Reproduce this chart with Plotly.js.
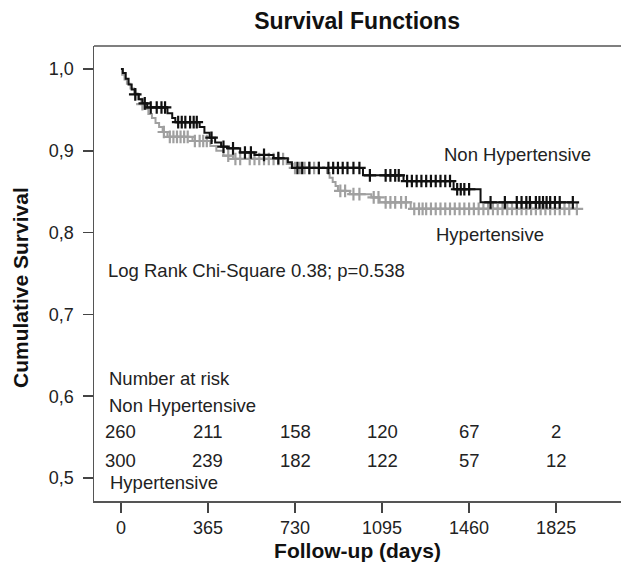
<!DOCTYPE html>
<html>
<head>
<meta charset="utf-8">
<script src="https://cdn.plot.ly/plotly-3.0.1.min.js"></script>
<style>html,body{margin:0;padding:0;background:#fff;}#chart{width:621px;height:573px;}</style>
</head>
<body>
<div id="chart"></div>
<script>
// Kaplan-Meier steps: Non Hypertensive
const nhTimes = [0, 8, 20, 32, 45, 60, 75, 90, 110, 195, 215, 228, 330, 350, 372, 395, 420, 445, 500, 560, 640, 700, 717, 1015, 1185, 1395, 1508];
const nhSurv  = [1.0, 0.995, 0.988, 0.981, 0.975, 0.969, 0.963, 0.958, 0.953, 0.946, 0.940, 0.935, 0.929, 0.922, 0.916, 0.910, 0.905, 0.903, 0.898, 0.895, 0.891, 0.886, 0.879, 0.870, 0.863, 0.853, 0.837];
const nhCensor = [60, 100, 125, 150, 170, 185, 240, 255, 270, 290, 305, 318, 380, 430, 470, 520, 545, 600, 660, 740, 760, 790, 830, 870, 890, 910, 930, 950, 975, 1000, 1044, 1110, 1130, 1150, 1165, 1200, 1220, 1240, 1260, 1280, 1300, 1320, 1340, 1360, 1380, 1410, 1425, 1440, 1460, 1550, 1610, 1660, 1680, 1700, 1715, 1740, 1755, 1770, 1785, 1800, 1820, 1840, 1895];

// Kaplan-Meier steps: Hypertensive
const htTimes = [0, 5, 15, 25, 40, 55, 70, 85, 100, 115, 130, 145, 160, 175, 195, 300, 375, 400, 430, 470, 695, 720, 864, 875, 888, 900, 910, 960, 1050, 1085, 1215];
const htSurv  = [1.0, 0.993, 0.987, 0.982, 0.976, 0.970, 0.963, 0.957, 0.951, 0.945, 0.940, 0.934, 0.929, 0.923, 0.917, 0.912, 0.906, 0.900, 0.894, 0.890, 0.884, 0.879, 0.873, 0.867, 0.862, 0.857, 0.851, 0.847, 0.843, 0.837, 0.829];
const htCensor = [90, 180, 205, 220, 235, 250, 265, 280, 310, 330, 345, 360, 450, 480, 500, 540, 560, 580, 600, 620, 640, 660, 680, 730, 750, 770, 790, 810, 830, 920, 940, 975, 1000, 1060, 1080, 1110, 1130, 1150, 1175, 1195, 1230, 1250, 1265, 1280, 1300, 1320, 1340, 1360, 1380, 1400, 1420, 1440, 1460, 1480, 1500, 1520, 1540, 1560, 1580, 1600, 1620, 1640, 1660, 1680, 1700, 1720, 1740, 1760, 1780, 1800, 1820, 1840, 1860, 1880, 1912];

// Number at risk table
const riskDays = [0, 365, 730, 1095, 1460, 1825];
const riskNonHT = [260, 211, 158, 120, 67, 2];
const riskHT = [300, 239, 182, 122, 57, 12];
const xTicks = [0, 365, 730, 1095, 1460, 1825];
const yTicks = [0.5, 0.6, 0.7, 0.8, 0.9, 1.0];

function survAt(times, surv, t) {
  let s = surv[0];
  for (let i = 0; i < times.length; i++) if (times[i] <= t) s = surv[i];
  return s;
}
function stepLine(times, surv, censor) {
  const end = Math.max(...censor);
  return {x: times.concat([end]), y: surv.concat([surv[surv.length - 1]])};
}

const FONT = 'Liberation Sans, Arial, sans-serif';
const GRAY = '#a0a0a0', BLACK = '#111111';

const htLine = stepLine(htTimes, htSurv, htCensor);
const nhLine = stepLine(nhTimes, nhSurv, nhCensor);

const traces = [
  {x: htLine.x, y: htLine.y, mode: 'lines', line: {shape: 'hv', color: GRAY, width: 2}, showlegend: false, hoverinfo: 'skip'},
  {x: htCensor, y: htCensor.map(t => survAt(htTimes, htSurv, t)), mode: 'markers',
   marker: {symbol: 'cross-thin-open', size: 9, color: GRAY, line: {color: GRAY, width: 2.2}}, showlegend: false, hoverinfo: 'skip'},
  {x: nhLine.x, y: nhLine.y, mode: 'lines', line: {shape: 'hv', color: BLACK, width: 2}, showlegend: false, hoverinfo: 'skip'},
  {x: nhCensor, y: nhCensor.map(t => survAt(nhTimes, nhSurv, t)), mode: 'markers',
   marker: {symbol: 'cross-thin-open', size: 9, color: BLACK, line: {color: BLACK, width: 2.2}}, showlegend: false, hoverinfo: 'skip'}
];

const TS = 18.5;
const ann = [];
function txt(x, y, text, anchor) {
  ann.push({x: x, y: y, xref: 'x', yref: 'y', text: text, showarrow: false,
            xanchor: anchor || 'left', yanchor: 'middle', font: {family: FONT, size: TS, color: '#222'}});
}
txt(1345, 0.896, 'Non Hypertensive');
txt(1311, 0.798, 'Hypertensive');
txt(-63, 0.754, 'Log Rank Chi-Square 0.38; p=0.538');
txt(-60, 0.622, 'Number at risk');
txt(-60, 0.589, 'Non Hypertensive');
txt(-55, 0.495, 'Hypertensive');
riskDays.forEach((d, i) => {
  txt(d, 0.557, String(riskNonHT[i]), 'center');
  txt(d, 0.522, String(riskHT[i]), 'center');
});
// y-axis title (pixel position converted to paper coords)
ann.push({x: (20 - 94) / (621 - 94), y: (501 - 288) / (501 - 46), xref: 'paper', yref: 'paper',
          text: '<b>Cumulative Survival</b>', showarrow: false,
          textangle: -90, xanchor: 'center', yanchor: 'middle', font: {family: FONT, size: 21, color: '#111'}});

const layout = {
  width: 621, height: 573,
  margin: {l: 94, r: 0, t: 46, b: 72},
  paper_bgcolor: '#fff', plot_bgcolor: '#fff',
  separators: ',.',
  font: {family: FONT, size: 15, color: '#222'},
  title: {text: '<b>Survival Functions</b>', x: 0.575, xanchor: 'center', y: 0.963, yanchor: 'middle',
          font: {family: FONT, size: 23, color: '#111'}},
  xaxis: {range: [-113, 2097], tickvals: xTicks, ticks: 'outside', ticklen: 10, tickwidth: 1.5, tickcolor: '#444',
          showline: true, linecolor: '#555', linewidth: 1.5, showgrid: false, zeroline: false,
          tickfont: {family: FONT, size: 18, color: '#222'},
          title: {text: '<b>Follow-up (days)</b>', font: {family: FONT, size: 21, color: '#111'}, standoff: 6}},
  yaxis: {range: [0.4719, 1.0281], tickvals: yTicks, tickformat: '.1f', ticks: 'outside', ticklen: 10, tickwidth: 1.5, tickcolor: '#444',
          showline: true, linecolor: '#555', linewidth: 1.5, showgrid: false, zeroline: false, ticklabelstandoff: 5,
          tickfont: {family: FONT, size: 18, color: '#222'}},
  shapes: [{type: 'line', xref: 'paper', yref: 'paper', x0: 0, x1: 1, y0: 1, y1: 1, line: {color: '#555', width: 1.5}}],
  annotations: ann,
  hovermode: false
};

Plotly.newPlot('chart', traces, layout, {displayModeBar: false, staticPlot: true});
</script>
</body>
</html>
